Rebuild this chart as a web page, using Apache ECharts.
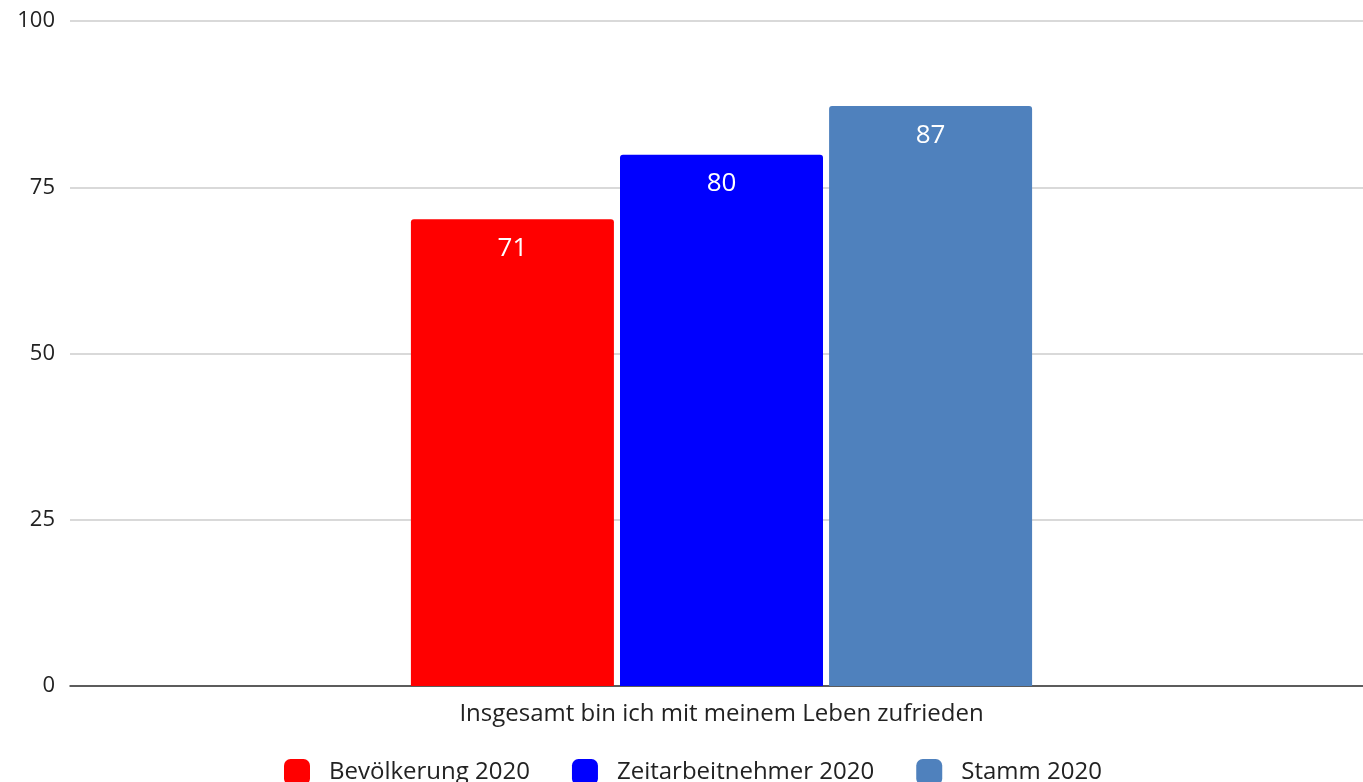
<!DOCTYPE html>
<html><head><meta charset="utf-8">
<script src="https://cdn.jsdelivr.net/npm/echarts@6/dist/echarts.min.js"></script>
<style>html,body{margin:0;padding:0;background:#fff}#c{width:1363px;height:782px}</style>
</head><body><div id="c"></div>
<script>
const categories = ["Insgesamt bin ich mit meinem Leben zufrieden"];
const seriesNames = ["Bevölkerung 2020", "Zeitarbeitnehmer 2020", "Stamm 2020"];
const seriesColors = ["#ff0000", "#0000ff", "#4f81bd"];
const bevoelkerung = [70.2];
const zeitarbeitnehmer = [79.9];
const stamm = [87.2];
const labelTexts = [["71"], ["80"], ["87"]];
const yTicks = [0, 25, 50, 75, 100];

const values = [bevoelkerung, zeitarbeitnehmer, stamm];
const chart = echarts.init(document.getElementById('c'));
chart.setOption({
  animation: false,
  textStyle: { fontFamily: "Open Sans" },
  grid: { left: 70, right: -10, top: 21, bottom: 96, containLabel: false, outerBoundsMode: 'none' },
  legend: {
    top: 754, left: 279, itemWidth: 26, itemHeight: 26, itemGap: 42,
    icon: 'roundRect',
    textStyle: { fontSize: 24, color: '#222', fontFamily: "Open Sans", padding: [0, 0, 0, 14] },
    data: seriesNames
  },
  xAxis: {
    type: 'category', data: categories,
    axisLine: { lineStyle: { color: '#333', width: 1.5 } },
    axisTick: { show: false },
    axisLabel: { fontSize: 24, color: '#222', margin: 16 }
  },
  yAxis: {
    type: 'value', min: yTicks[0], max: yTicks[yTicks.length - 1], interval: 25,
    axisLine: { show: false }, axisTick: { show: false },
    axisLabel: { fontSize: 22, color: '#222', margin: 15 },
    splitLine: { lineStyle: { color: '#cccccc', width: 1.5 } }
  },
  series: seriesNames.map((n, i) => ({
    name: n, type: 'bar', data: values[i],
    barWidth: 203, barGap: '3%',
    itemStyle: { color: seriesColors[i], borderRadius: [3, 3, 0, 0] },
    label: {
      show: true, position: 'insideTop', distance: 16, color: '#fff', fontSize: 26,
      formatter: (p) => labelTexts[i][p.dataIndex]
    }
  }))
});
</script></body></html>
